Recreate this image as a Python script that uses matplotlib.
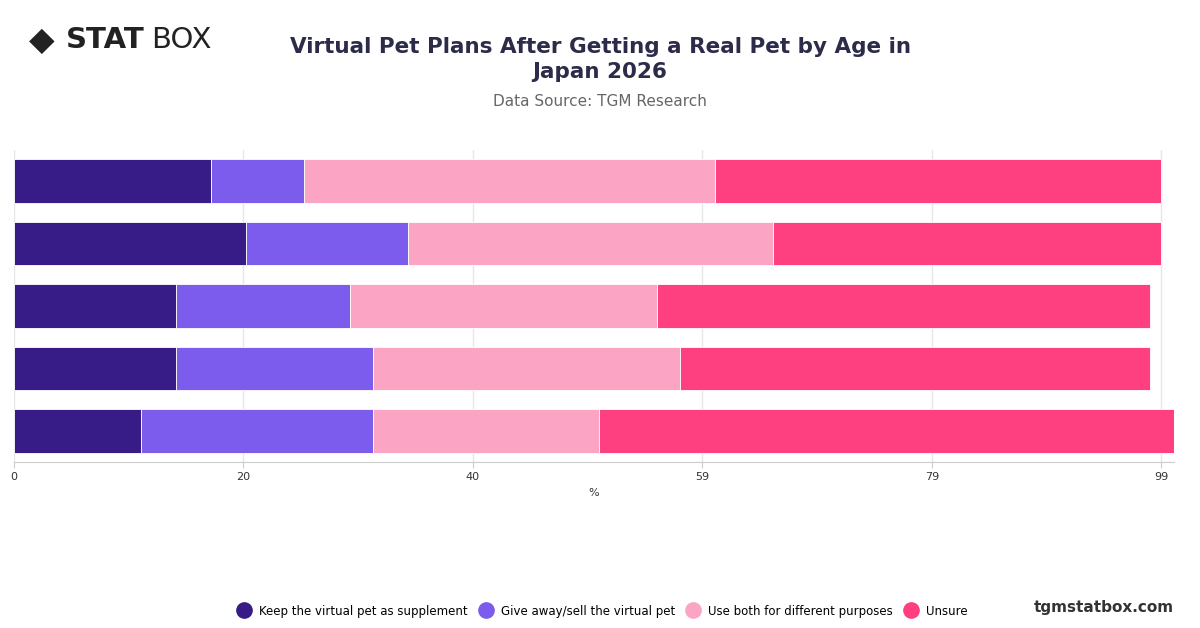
import matplotlib.pyplot as plt
from matplotlib.lines import Line2D

series = ['Keep the virtual pet as supplement', 'Give away/sell the virtual pet',
          'Use both for different purposes', 'Unsure']
colors = ['#371c87', '#7b5ced', '#fba4c4', '#fe3f80']
# bars from top to bottom
keep = [17, 20, 14, 14, 11]
give = [8, 14, 15, 17, 20]
both = [35.5, 31.5, 26.5, 26.5, 19.5]
unsure = [38.5, 33.5, 42.5, 40.5, 49.6]
ticks = [0, 19.8, 39.6, 59.4, 79.2, 99]
tick_labels = ['0', '20', '40', '59', '79', '99']

fig = plt.figure(figsize=(12, 6.28), dpi=100)
ax = fig.add_axes([14 / 1200, 1 - 462 / 628, 1160 / 1200, 312 / 628])

y = list(range(len(keep)))[::-1]
left = [0] * len(keep)
for vals, c, name in zip([keep, give, both, unsure], colors, series):
    ax.barh(y, vals, left=left, color=c, height=0.7, edgecolor='white', linewidth=0.6, label=name)
    left = [l + v for l, v in zip(left, vals)]

ax.set_xlim(0, 100.1)
ax.set_ylim(-0.5, 4.5)
ax.set_xticks(ticks)
ax.set_xticklabels(tick_labels, fontsize=8, color='#333333')
ax.set_yticks([])
ax.grid(axis='x', color='#e6e6e6', linewidth=1)
ax.set_axisbelow(True)
for s in ['top', 'right', 'left']:
    ax.spines[s].set_visible(False)
ax.spines['bottom'].set_color('#cccccc')
ax.tick_params(axis='x', length=4, color='#cccccc')
ax.set_xlabel('%', fontsize=8, color='#333333')

fig.text(0.5, 0.905, 'Virtual Pet Plans After Getting a Real Pet by Age in\nJapan 2026',
         ha='center', va='center', fontsize=15.5, fontweight='bold', color='#2c2c4a',
         linespacing=1.3)
fig.text(0.5, 0.838, 'Data Source: TGM Research', ha='center', va='center',
         fontsize=11, color='#666666')
fig.text(0.055, 0.936, 'STAT', ha='left', va='center', fontsize=21, fontweight='bold', color='#222222')
fig.text(0.126, 0.936, 'BOX', ha='left', va='center', fontsize=21, color='#222222')
fig.text(0.035, 0.936, '◆', ha='center', va='center', fontsize=24, color='#222222')
fig.text(0.978, 0.033, 'tgmstatbox.com', ha='right', va='center', fontsize=11,
         fontweight='bold', color='#333333')

handles = [Line2D([], [], marker='o', linestyle='', markersize=11, color=c) for c in colors]
fig.legend(handles, series, loc='center', bbox_to_anchor=(0.5, 0.027), ncol=4,
           frameon=False, fontsize=8.5, handletextpad=0.3, columnspacing=0.5)

fig.savefig('out.png', dpi=100)
